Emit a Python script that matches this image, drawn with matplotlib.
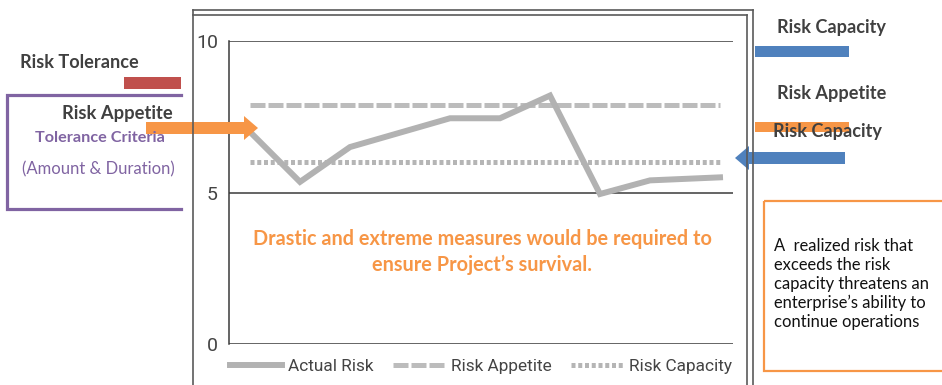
import matplotlib
matplotlib.use('Agg')
import matplotlib.pyplot as plt
from matplotlib.patches import FancyArrow, Rectangle
from matplotlib.lines import Line2D

# risk profile over the project periods
periods = [0, 1, 2, 4, 5, 6, 7, 8, 9.4]
actual_risk = [7.0, 5.35, 6.5, 7.45, 7.45, 8.2, 4.95, 5.4, 5.5]
limit_span = [0, 9.4]
risk_appetite = [7.9, 7.9]
risk_capacity = [6.0, 6.0]
y_ticks = [0, 5, 10]
series_names = ['Actual Risk', 'Risk Appetite', 'Risk Capacity']

W, H = 942, 385
narrow = ['Roboto', 'DejaVu Sans']
body = ['Lato', 'DejaVu Sans']
dark = '#404040'
purple = '#8064a2'
orange = '#f79646'
blue = '#4f81bd'
red = '#c0504d'

fig = plt.figure(figsize=(W / 100, H / 100), dpi=100)


def fx(x):
    return x / W


def fy(y):
    return 1 - y / H


# main chart
ax = fig.add_axes([fx(229), fy(344), fx(733) - fx(229), fy(41) - fy(344)])
l1, = ax.plot(periods, actual_risk, color='#b2b2b2', lw=4.3, solid_joinstyle='miter', zorder=3)
l2, = ax.plot(limit_span, risk_appetite, color='#bcbcbc', lw=3.6, ls=(0, (3.0, 0.6)), zorder=2)
l3, = ax.plot(limit_span, risk_capacity, color='#b5b5b5', lw=3.6, ls=(0, (0.8, 0.55)), zorder=2)
for v in y_ticks:
    ax.axhline(v, color='#3a3a3a', lw=1.1, zorder=1)
ax.set_ylim(0, 10)
ax.set_xlim(-0.42, 9.66)
ax.set_xticks([])
ax.set_yticks(y_ticks)
for s in ['top', 'right', 'bottom']:
    ax.spines[s].set_visible(False)
ax.spines['left'].set_color('#3a3a3a')
ax.spines['left'].set_linewidth(1.1)
ax.tick_params(axis='y', length=0, pad=8, labelsize=14, labelcolor='#444444')
for t in ax.get_yticklabels():
    t.set_family(narrow)

fig.legend([l1, l2, l3], series_names, loc='center left',
           bbox_to_anchor=(fx(230), fy(366)), frameon=False, ncol=3,
           handlelength=3.0, handletextpad=0.35, columnspacing=1.15,
           borderpad=0, borderaxespad=0,
           prop={'family': narrow, 'size': 12.4}, labelcolor='#444444')

# overlay in pixel coordinates for the annotations
ov = fig.add_axes([0, 0, 1, 1], facecolor='none')
ov.set_xlim(0, W)
ov.set_ylim(H, 0)
ov.axis('off')

# double frame around the chart
frame = '#5a5a5a'
ov.add_line(Line2D([193, 193], [10, 390], color=frame, lw=1.2))
ov.add_line(Line2D([193, 753], [10, 10], color=frame, lw=1.2))
ov.add_line(Line2D([193, 747], [14.5, 14.5], color=frame, lw=1.2))
ov.add_line(Line2D([753, 753], [10, 390], color=frame, lw=1.2))
ov.add_line(Line2D([747, 747], [14.5, 390], color=frame, lw=1.2))

# left side labels
ov.text(20, 62, 'Risk Tolerance', family=body, weight='bold', size=13.1,
        color=dark, ha='left', va='center')
ov.add_patch(Rectangle((124, 77), 57, 12, color=red, lw=0))
ov.add_line(Line2D([181, 7, 7, 181], [95, 95, 209, 209], color=purple, lw=2.3,
                   solid_joinstyle='miter'))
ov.text(173, 114, 'Risk Appetite', family=body, weight='bold', size=13.2,
        color=dark, ha='right', va='center')
ov.text(35, 138, 'Tolerance Criteria', family=body, weight='bold', size=11.7,
        color=purple, ha='left', va='center')
ov.text(22, 169, '(Amount & Duration)', family=body, size=12,
        color=purple, ha='left', va='center')
ov.add_patch(FancyArrow(146, 128, 112, 0, width=12, head_width=24, head_length=14,
                        length_includes_head=True, color=orange, lw=0))

# right side labels
ov.text(777, 27, 'Risk Capacity', family=body, weight='bold', size=13.1,
        color=dark, ha='left', va='center')
ov.add_patch(Rectangle((755, 46), 94, 11, color=blue, lw=0))
ov.text(777, 93, 'Risk Appetite', family=body, weight='bold', size=13.1,
        color=dark, ha='left', va='center')
ov.add_patch(Rectangle((755, 122), 94, 10, color=orange, lw=0))
ov.text(773, 132, 'Risk Capacity', family=body, weight='bold', size=13.1,
        color=dark, ha='left', va='center')
ov.add_patch(FancyArrow(845, 158, -110, 0, width=12, head_width=24, head_length=14,
                        length_includes_head=True, color=blue, lw=0))

# notes
ov.text(482, 252, 'Drastic and extreme measures would be required to\nensure Project\u2019s survival.',
        family=body, weight='bold', size=14.3, color=orange, ha='center', va='center',
        multialignment='center', linespacing=1.35)
ov.add_patch(Rectangle((764, 201), 200, 170, fill=False, edgecolor=orange, lw=1.6))
ov.text(774, 284, 'A  realized risk that\nexceeds the risk\ncapacity threatens an\nenterprise\u2019s ability to\ncontinue operations',
        family=body, size=11.9, color='#111111', ha='left', va='center', linespacing=1.23)

fig.savefig('out.png', dpi=100)
